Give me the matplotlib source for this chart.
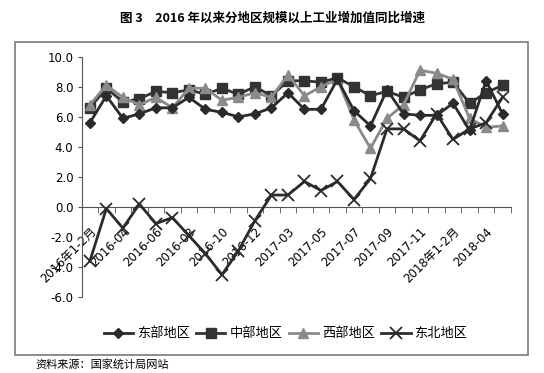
import numpy as np
import matplotlib
matplotlib.use("Agg")
import matplotlib.pyplot as plt
from matplotlib.patches import Rectangle

plt.rcParams['font.family'] = ['DejaVu Sans', 'Noto Sans CJK SC']

# categories (monthly, 2016 Jan-Feb combined)
months = (["2016年1-2月"] + ["2016-%02d" % m for m in range(3, 13)]
          + ["2017年1-2月"] + ["2017-%02d" % m for m in range(3, 13)]
          + ["2018年1-2月", "2018-03", "2018-04", "2018-05"])

east = [5.6, 7.4, 5.9, 6.2, 6.6, 6.6, 7.3, 6.5, 6.3, 6.0, 6.2, 6.6, 7.6,
        6.5, 6.5, 8.5, 6.4, 5.4, 7.8, 6.2, 6.1, 6.1, 6.9, 5.1, 8.4, 6.2]
central = [6.6, 7.9, 7.0, 7.2, 7.7, 7.6, 7.8, 7.5, 7.9, 7.5, 8.0, 7.4, 8.4,
           8.4, 8.3, 8.6, 8.0, 7.4, 7.7, 7.3, 7.8, 8.2, 8.3, 6.9, 7.6, 8.1]
west = [6.8, 8.1, 7.3, 6.8, 7.3, 6.6, 7.9, 7.9, 7.1, 7.3, 7.6, 7.3, 8.8,
        7.4, 8.0, 8.5, 5.8, 3.9, 5.9, 6.8, 9.1, 8.9, 8.5, 5.9, 5.3, 5.4]
northeast = [-3.6, -0.1, -1.4, 0.2, -1.1, -0.7, -1.9, -3.1, -4.5, -2.9, -0.9,
             0.8, 0.8, 1.7, 1.1, 1.7, 0.5, 1.9, 5.2, 5.2, 4.4, 6.2, 4.5, 5.2,
             5.6, 7.3]

names = ["东部地区", "中部地区", "西部地区", "东北地区"]
cjk = ['Noto Sans CJK SC', 'DejaVu Sans']

fig = plt.figure(figsize=(5.44, 3.73), dpi=100)
fig.patch.set_facecolor("white")

# outer chart box
fig.patches.append(Rectangle((0.028, 0.048), 0.943, 0.84, transform=fig.transFigure,
                             fill=False, edgecolor="#7a7a7a", linewidth=1.2))

ax = fig.add_axes([0.150, 0.203, 0.789, 0.645])
x = np.arange(len(months))

ax.plot(x, east, color="#2b2b2b", lw=2.0, marker="D", ms=5, label=names[0], zorder=4)
ax.plot(x, central, color="#333333", lw=2.0, marker="s", ms=7, label=names[1], zorder=3)
ax.plot(x, west, color="#8a8a8a", lw=2.0, marker="^", ms=7, label=names[2], zorder=3.5)
ax.plot(x, northeast, color="#2b2b2b", lw=2.0, marker="x", ms=8, mew=1.3, label=names[3], zorder=4)

ax.set_xlim(-0.5, len(months) - 0.5)
ax.set_ylim(-6, 10)
ax.set_yticks(np.arange(-6, 10.1, 2))
ax.set_yticklabels(["%.1f" % v for v in np.arange(-6, 10.1, 2)], fontsize=8.5)

for s in ["top", "right"]:
    ax.spines[s].set_visible(False)
ax.spines["bottom"].set_position(("data", 0))
ax.spines["bottom"].set_color("#555555")
ax.spines["left"].set_color("#555555")
ax.tick_params(axis="y", length=3, color="#555555", pad=3)

ax.set_xticks(x[::2])
ax.set_xticklabels(months[::2], rotation=45, ha="right", rotation_mode="anchor",
                   fontsize=8.5)
ax.tick_params(axis="x", which="major", length=0, pad=13)
ax.set_xticks(np.arange(-0.5, len(months), 1), minor=True)
ax.tick_params(axis="x", which="minor", length=4, color="#555555", direction="out")
ax.patch.set_alpha(0)

fig.legend(loc="center", bbox_to_anchor=(0.525, 0.105), ncol=4, frameon=False,
           prop={'family': cjk, 'size': 9.5}, handlelength=2.2,
           columnspacing=0.5, handletextpad=0.3)

fig.text(0.5, 0.952, "图 3　2016 年以来分地区规模以上工业增加值同比增速",
         ha="center", va="center", fontsize=9, fontweight="bold", family=cjk)
fig.text(0.065, 0.022, "资料来源：国家统计局网站", ha="left", va="center",
         fontsize=8, family=cjk)

fig.savefig("out.png", dpi=100)
